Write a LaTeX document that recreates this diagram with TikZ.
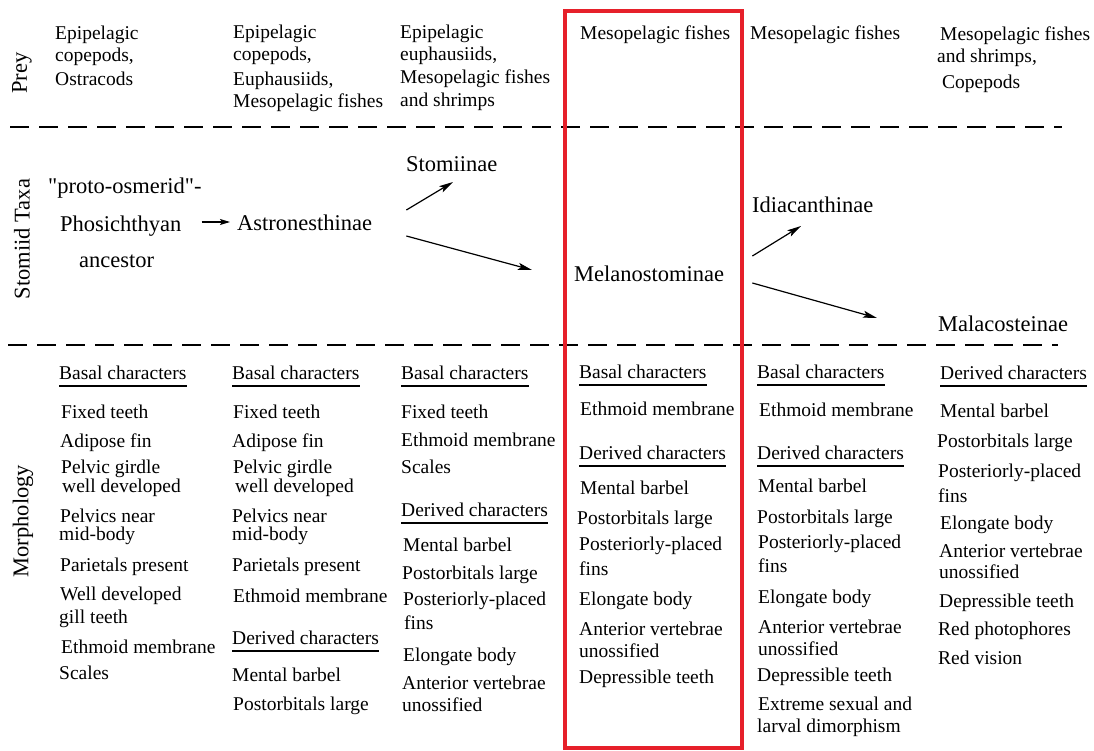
\documentclass[tikz,border=0pt]{standalone}
\usepackage{fontspec}
\setmainfont{Liberation Serif}
\usetikzlibrary{arrows.meta,calc}
\definecolor{boxred}{RGB}{230,32,42}
\tikzset{
  txt/.style={anchor=base west, inner sep=0pt, font=\fontsize{19.5}{22}\selectfont},
  taxon/.style={anchor=base west, inner sep=0pt, font=\fontsize{22.5}{26}\selectfont},
  side/.style={rotate=90, inner sep=0pt, font=\fontsize{22.5}{26}\selectfont},
  arr/.style={line width=1.2pt, -{Stealth[length=14pt,width=7pt,inset=3pt]}},
  arrsmall/.style={line width=1.2pt, -{Stealth[length=10pt,width=6pt,inset=2pt]}},
  divider/.style={line width=1.8pt, dash pattern=on 19pt off 10pt},
  uline/.style={line width=1.6pt},
  redbox/.style={draw=boxred, line width=4pt}
}
\newcommand\Ln[4]{\node[txt] (#1) at (#2,#3) {#4};}
\newcommand\Hd[4]{\node[txt] (#1) at (#2,#3) {#4};
  \draw[uline] ($(#1.base west)+(0,7)$) -- ($(#1.base east)+(0,7)$);}
\begin{document}
\begin{tikzpicture}[x=1pt,y=-1pt]
\useasboundingbox (0,0) rectangle (1094,751);
% side labels
\node[side] (lprey) at (22,73) {Prey};
\node[side] (ltaxa) at (22,239) {Stomiid Taxa};
\node[side] (lmorph) at (23,521) {Morphology};
% dividers
\draw[divider] (10,127) -- (1062,127);
\draw[divider] (8,345) -- (1058,345);
% red box
\draw[redbox] (565,11) rectangle (742,748);
% ---- Prey
\Ln{pa1}{55}{40}{Epipelagic}
\Ln{pa2}{55}{62}{copepods,}
\Ln{pa3}{55}{86}{Ostracods}
\Ln{pb1}{233}{39}{Epipelagic}
\Ln{pb2}{233}{61}{copepods,}
\Ln{pb3}{233}{86}{Euphausiids,}
\Ln{pb4}{233}{108}{Mesopelagic fishes}
\Ln{pc1}{400}{39}{Epipelagic}
\Ln{pc2}{400}{61}{euphausiids,}
\Ln{pc3}{400}{84}{Mesopelagic fishes}
\Ln{pc4}{400}{107}{and shrimps}
\Ln{pd1}{580}{40}{Mesopelagic fishes}
\Ln{pe1}{750}{40}{Mesopelagic fishes}
\Ln{pf1}{940}{41}{Mesopelagic fishes}
\Ln{pf2}{937}{63}{and shrimps,}
\Ln{pf3}{942}{89}{Copepods}
% ---- Taxa
\node[taxon] (proto) at (48,194) {\textquotedbl proto-osmerid\textquotedbl -};
\node[taxon] (phos) at (60,232) {Phosichthyan};
\node[taxon] (anc) at (79,268) {ancestor};
\node[taxon] (astro) at (237,231) {Astronesthinae};
\node[taxon] (stom) at (406,172) {Stomiinae};
\node[taxon] (mela) at (574,281) {Melanostominae};
\node[taxon] (idia) at (752,213) {Idiacanthinae};
\node[taxon] (mala) at (938,331) {Malacosteinae};
\draw[arrsmall] ($(phos.base east)+(20,-10)$) -- ($(astro.base west)+(-7,-9)$);
\draw[arr] ($(astro.base east)+(34,-21)$) -- ($(stom.base west)+(47,10)$);
\draw[arr] ($(astro.base east)+(34,5)$) -- ($(mela.base west)+(-42,-11)$);
\draw[arr] ($(mela.base east)+(28,-25)$) -- ($(idia.base west)+(49,13)$);
\draw[arr] ($(mela.base east)+(28,2)$) -- ($(mala.base west)+(-61,-13)$);
% ---- Morphology col 1
\Hd{ma0}{59}{379}{Basal characters}
\Ln{ma1}{61}{418}{Fixed teeth}
\Ln{ma2}{60}{447}{Adipose fin}
\Ln{ma3}{61}{473}{Pelvic girdle}
\Ln{ma4}{62}{492}{well developed}
\Ln{ma5}{60}{522}{Pelvics near}
\Ln{ma6}{59}{540}{mid-body}
\Ln{ma7}{60}{571}{Parietals present}
\Ln{ma8}{60}{600}{Well developed}
\Ln{ma9}{59}{623}{gill teeth}
\Ln{ma10}{61}{653}{Ethmoid membrane}
\Ln{ma11}{59}{679}{Scales}
% col 2
\Hd{mb0}{232}{379}{Basal characters}
\Ln{mb1}{233}{418}{Fixed teeth}
\Ln{mb2}{232}{447}{Adipose fin}
\Ln{mb3}{233}{473}{Pelvic girdle}
\Ln{mb4}{235}{492}{well developed}
\Ln{mb5}{232}{522}{Pelvics near}
\Ln{mb6}{232}{540}{mid-body}
\Ln{mb7}{232}{571}{Parietals present}
\Ln{mb8}{233}{602}{Ethmoid membrane}
\Hd{mb9}{232}{644}{Derived characters}
\Ln{mb10}{232}{681}{Mental barbel}
\Ln{mb11}{233}{710}{Postorbitals large}
% col 3
\Hd{mc0}{401}{379}{Basal characters}
\Ln{mc1}{401}{418}{Fixed teeth}
\Ln{mc2}{401}{446}{Ethmoid membrane}
\Ln{mc3}{401}{473}{Scales}
\Hd{mc4}{401}{516}{Derived characters}
\Ln{mc5}{403}{551}{Mental barbel}
\Ln{mc6}{402}{579}{Postorbitals large}
\Ln{mc7}{403}{605}{Posteriorly-placed}
\Ln{mc8}{404}{629}{fins}
\Ln{mc9}{403}{661}{Elongate body}
\Ln{mc10}{402}{689}{Anterior vertebrae}
\Ln{mc11}{402}{711}{unossified}
% col 4
\Hd{md0}{579}{378}{Basal characters}
\Ln{md1}{580}{415}{Ethmoid membrane}
\Hd{md2}{579}{459}{Derived characters}
\Ln{md3}{580}{494}{Mental barbel}
\Ln{md4}{577}{524}{Postorbitals large}
\Ln{md5}{579}{550}{Posteriorly-placed}
\Ln{md6}{579}{575}{fins}
\Ln{md7}{579}{605}{Elongate body}
\Ln{md8}{579}{635}{Anterior vertebrae}
\Ln{md9}{579}{657}{unossified}
\Ln{md10}{579}{683}{Depressible teeth}
% col 5
\Hd{me0}{757}{378}{Basal characters}
\Ln{me1}{759}{416}{Ethmoid membrane}
\Hd{me2}{757}{459}{Derived characters}
\Ln{me3}{758}{492}{Mental barbel}
\Ln{me4}{757}{523}{Postorbitals large}
\Ln{me5}{758}{548}{Posteriorly-placed}
\Ln{me6}{758}{572}{fins}
\Ln{me7}{758}{603}{Elongate body}
\Ln{me8}{758}{633}{Anterior vertebrae}
\Ln{me9}{758}{655}{unossified}
\Ln{me10}{757}{681}{Depressible teeth}
\Ln{me11}{758}{710}{Extreme sexual and}
\Ln{me12}{757}{732}{larval dimorphism}
% col 6
\Hd{mf0}{940}{379}{Derived characters}
\Ln{mf1}{940}{417}{Mental barbel}
\Ln{mf2}{937}{447}{Postorbitals large}
\Ln{mf3}{938}{477}{Posteriorly-placed}
\Ln{mf4}{938}{502}{fins}
\Ln{mf5}{940}{529}{Elongate body}
\Ln{mf6}{939}{557}{Anterior vertebrae}
\Ln{mf7}{939}{578}{unossified}
\Ln{mf8}{939}{607}{Depressible teeth}
\Ln{mf9}{938}{635}{Red photophores}
\Ln{mf10}{938}{664}{Red vision}
\end{tikzpicture}
\end{document}
